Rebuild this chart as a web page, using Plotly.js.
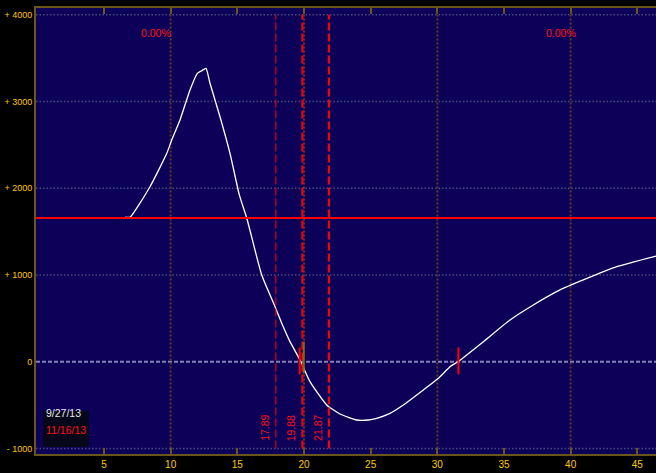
<!DOCTYPE html>
<html>
<head>
<meta charset="utf-8">
<script src="https://cdn.plot.ly/plotly-3.0.1.min.js"></script>
<style>html,body{margin:0;padding:0;background:#000;}#chart{width:656px;height:473px;}</style>
</head>
<body>
<div id="chart"></div>
<script>
// ---- data ----
var curveX = [6.58, 6.95, 8.45, 9.71, 10.08, 10.70, 11.45, 12.0, 12.33, 12.65, 12.95, 13.70, 14.45, 15.15, 15.71, 16.83, 17.83, 18.33, 18.95, 19.70, 20.45, 21.70, 22.70, 23.95, 24.83, 25.45, 26.45, 27.45, 28.95, 30.08, 30.95, 31.55, 33.45, 35.45, 37.20, 39.20, 40.95, 43.45, 46.40];
var curveY = [1665, 1665, 2017, 2402, 2556, 2786, 3132, 3324, 3354, 3382, 3209, 2824, 2402, 1922, 1653, 999, 634, 443, 231, 20, -230, -499, -603, -672, -672, -652, -595, -499, -326, -191, -58, 0, 231, 481, 654, 827, 942, 1095, 1218];
var refLevel = 1657;
var strikeLines = [17.89, 19.88, 21.87];
var strikeLabels = ['17.89', '19.88', '21.87'];
var strikeWidths = [1, 2, 2];
var redMarkers = [19.68, 31.58];
var priceMarker = 19.98;
var xTicks = [5, 10, 15, 20, 25, 30, 35, 40, 45];
var yTicks = [-1000, 0, 1000, 2000, 3000, 4000];
var yTickText = ['- 1000', '0', '+ 1000', '+ 2000', '+ 3000', '+ 4000'];
var xGrid = [10, 20, 30, 40];
var yGrid = [-1000, 1000, 2000, 3000, 4000];
var pctLabels = ['0.00%', '0.00%'];
var pctX = [8.88, 39.3];
var pctY = 3789;
var legendDates = ['9/27/13', '11/16/13'];

// ---- styles ----
var AXIS = '#6a5618';
var shapes = [];
yGrid.forEach(function (v) {
  shapes.push({type: 'line', xref: 'paper', yref: 'y', x0: 0, x1: 1, y0: v, y1: v,
    line: {color: '#48487c', width: 1.5, dash: '1.5px,2px'}, layer: 'below'});
});
xGrid.forEach(function (v) {
  shapes.push({type: 'line', xref: 'x', yref: 'y', x0: v, x1: v, y0: -1000, y1: 4000,
    line: {color: '#5c3e1c', width: 2, dash: '2px,2px'}, layer: 'below'});
});
shapes.push({type: 'line', xref: 'paper', yref: 'y', x0: 0, x1: 1, y0: 0, y1: 0,
  line: {color: '#8282b4', width: 2, dash: '4px,2px'}, layer: 'below'});
shapes.push({type: 'line', xref: 'paper', yref: 'y', x0: 0, x1: 1, y0: refLevel, y1: refLevel,
  line: {color: '#ff0000', width: 2}});
strikeLines.forEach(function (v, i) {
  shapes.push({type: 'line', xref: 'x', yref: 'y', x0: v, x1: v, y0: -1000, y1: 4000,
    line: {color: '#ff0000', width: strikeWidths[i], dash: '8px,3px'}});
});
redMarkers.forEach(function (v) {
  shapes.push({type: 'line', xref: 'x', yref: 'y', x0: v, x1: v, y0: -145, y1: 165,
    line: {color: '#ff0000', width: 2}});
});
shapes.push({type: 'line', xref: 'x', yref: 'y', x0: priceMarker, x1: priceMarker, y0: -135, y1: 230,
  line: {color: '#7a6a1a', width: 2}});
// legend box
shapes.push({type: 'rect', xref: 'paper', yref: 'paper', x0: 0.0113, x1: 0.0855, y0: 0.0157, y1: 0.0964,
  fillcolor: '#07071a', line: {width: 0}});

var annotations = [];
pctLabels.forEach(function (t, i) {
  annotations.push({x: pctX[i], y: pctY, xref: 'x', yref: 'y', text: t, showarrow: false,
    font: {family: 'Liberation Sans', size: 10.5, color: '#ff1010'}});
});
strikeLines.forEach(function (v, i) {
  annotations.push({x: v, y: -764, xref: 'x', yref: 'y', text: strikeLabels[i], showarrow: false,
    textangle: -90, xshift: -11, font: {family: 'Liberation Sans', size: 10.5, color: '#ff1010'}});
});
annotations.push({x: 0.0137, y: 0.074, xref: 'paper', yref: 'paper', xanchor: 'left', text: legendDates[0],
  showarrow: false, font: {family: 'Liberation Sans', size: 10.5, color: '#e8e8e8'}});
annotations.push({x: 0.0137, y: 0.036, xref: 'paper', yref: 'paper', xanchor: 'left', text: legendDates[1],
  showarrow: false, font: {family: 'Liberation Sans', size: 10.5, color: '#ff1010'}});

var trace = {x: curveX, y: curveY, type: 'scatter', mode: 'lines',
  line: {color: '#ffffff', width: 1.3, shape: 'spline', smoothing: 0.5}, hoverinfo: 'skip'};

var layout = {
  width: 656, height: 473,
  margin: {l: 36, r: 0, t: 8, b: 19, pad: 0},
  paper_bgcolor: '#000000', plot_bgcolor: '#0d0059',
  showlegend: false,
  xaxis: {range: [-0.1, 46.4], tickvals: xTicks, ticktext: xTicks.map(String),
    showgrid: false, zeroline: false, showline: true, linecolor: AXIS, linewidth: 2,
    mirror: 'ticks', ticks: 'inside', ticklen: 6, tickwidth: 2, tickcolor: AXIS,
    tickfont: {family: 'Liberation Sans', size: 10, color: '#ffc800'}},
  yaxis: {range: [-1064, 4077], tickvals: yTicks, ticktext: yTickText,
    showgrid: false, zeroline: false, showline: true, linecolor: AXIS, linewidth: 2,
    ticks: '',
    tickfont: {family: 'Liberation Sans', size: 9, color: '#ffc800'}},
  shapes: shapes,
  annotations: annotations
};
Plotly.newPlot('chart', [trace], layout, {displayModeBar: false, staticPlot: true});
</script>
</body>
</html>
